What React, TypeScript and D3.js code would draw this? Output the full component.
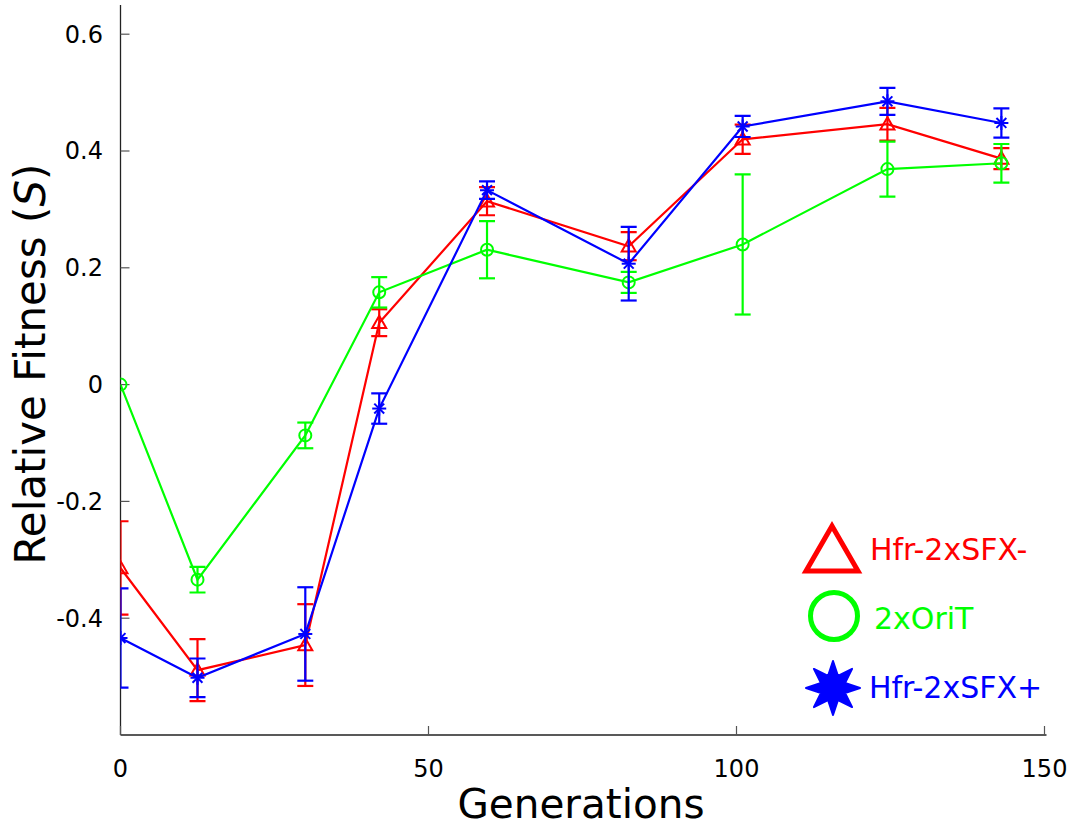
import React from "react";
import * as d3 from "d3";

const generations = [0, 12.5, 30, 42, 59.5, 82.5, 101, 124.5, 143];

const redValues = [-0.314, -0.489, -0.446, 0.106, 0.314, 0.237, 0.42, 0.446, 0.387];
const redErrors = [0.08, 0.053, 0.07, 0.023, 0.024, 0.024, 0.025, 0.028, 0.018];

const greenValues = [0, -0.334, -0.087, 0.158, 0.231, 0.175, 0.24, 0.369, 0.379];
const greenErrors = [0, 0.022, 0.022, 0.026, 0.049, 0.018, 0.12, 0.047, 0.033];

const blueValues = [-0.434, -0.502, -0.427, -0.041, 0.333, 0.207, 0.442, 0.485, 0.448];
const blueErrors = [0.085, 0.033, 0.08, 0.026, 0.015, 0.063, 0.018, 0.023, 0.025];

const seriesNames = ["Hfr-2xSFX-", "2xOriT", "Hfr-2xSFX+"];
const seriesColors = ["#ff0000", "#00ff00", "#0000ff"];
const seriesMarkers = ["triangle", "circle", "star"];

const xTicks = [0, 50, 100, 150];
const yTicks = [0.6, 0.4, 0.2, 0, -0.2, -0.4];

const W = 1076;
const H = 829;
const L = 120.5;
const R = 1044.5;
const T = 5;
const B = 735;

const font = "DejaVu Sans, sans-serif";

function Marker({ kind, x, y, color }: { kind: string; x: number; y: number; color: string }) {
  if (kind === "triangle") {
    const s = 7;
    const pts = `${x},${y - s} ${x - s},${y + s * 0.75} ${x + s},${y + s * 0.75}`;
    return <polygon points={pts} fill="none" stroke={color} strokeWidth={2} />;
  }
  if (kind === "circle") {
    return <circle cx={x} cy={y} r={6} fill="none" stroke={color} strokeWidth={2} />;
  }
  const r = 7;
  const lines = [];
  for (let i = 0; i < 4; i++) {
    const a = (i * Math.PI) / 4;
    lines.push(
      <line
        key={i}
        x1={x - r * Math.cos(a)}
        y1={y - r * Math.sin(a)}
        x2={x + r * Math.cos(a)}
        y2={y + r * Math.sin(a)}
        stroke={color}
        strokeWidth={2}
      />
    );
  }
  return <g>{lines}</g>;
}

export default function App() {
  const x = d3.scaleLinear().domain([0, 150]).range([L, R]);
  const y = d3.scaleLinear().domain([-0.6, 0.65]).range([B, T]);

  const series = [
    { values: redValues, errors: redErrors },
    { values: greenValues, errors: greenErrors },
    { values: blueValues, errors: blueErrors },
  ];

  const line = d3
    .line<number>()
    .x((_, i) => x(generations[i]))
    .y((d) => y(d));

  const cap = 8;

  const starPts = (cx: number, cy: number, ro: number, ri: number, n: number) => {
    const p: string[] = [];
    for (let i = 0; i < n * 2; i++) {
      const rr = i % 2 === 0 ? ro : ri;
      const a = -Math.PI / 2 + (i * Math.PI) / n;
      p.push(`${cx + rr * Math.cos(a)},${cy + rr * Math.sin(a)}`);
    }
    return p.join(" ");
  };

  return (
    <svg
      width={W}
      height={H}
      style={{ position: "absolute", left: 0, top: 0, background: "#fff" }}
      fontFamily={font}
    >
      <defs>
        <clipPath id="plotclip">
          <rect x={L} y={T} width={R - L + 3} height={B - T} />
        </clipPath>
      </defs>

      {/* axes */}
      <line x1={L} y1={T} x2={L} y2={B} stroke="#222" strokeWidth={1.3} />
      <line x1={L} y1={B} x2={R + 2} y2={B} stroke="#222" strokeWidth={1.3} />
      {yTicks.map((t) => (
        <g key={t}>
          <line x1={L} x2={L + 9} y1={y(t)} y2={y(t)} stroke="#555" strokeWidth={1.2} />
          <text x={103} y={y(t)} dy="0.35em" textAnchor="end" fontSize={24} fill="#000">
            {t === 0 ? "0" : String(t)}
          </text>
        </g>
      ))}
      {xTicks.map((t) => (
        <g key={t}>
          <line x1={x(t)} x2={x(t)} y1={B} y2={B - 9} stroke="#555" strokeWidth={1.2} />
          <text x={x(t)} y={777} textAnchor="middle" fontSize={24} fill="#000">
            {t}
          </text>
        </g>
      ))}

      <text x={581} y={818} textAnchor="middle" fontSize={40.5} fill="#000">
        Generations
      </text>
      <text
        transform={`translate(45, 364) rotate(-90)`}
        textAnchor="middle"
        fontSize={42}
        fill="#000"
      >
        Relative Fitness (<tspan fontStyle="italic">S</tspan>)
      </text>

      <g clipPath="url(#plotclip)">
        {series.map((s, si) => (
          <g key={si}>
            <path d={line(s.values) || ""} fill="none" stroke={seriesColors[si]} strokeWidth={2.2} />
            {s.values.map((v, i) => {
              const cx = x(generations[i]);
              const e = s.errors[i];
              if (e <= 0) return null;
              return (
                <g key={i} stroke={seriesColors[si]} strokeWidth={2.2}>
                  <line x1={cx} x2={cx} y1={y(v + e)} y2={y(v - e)} />
                  <line x1={cx - cap} x2={cx + cap} y1={y(v + e)} y2={y(v + e)} />
                  <line x1={cx - cap} x2={cx + cap} y1={y(v - e)} y2={y(v - e)} />
                </g>
              );
            })}
            {s.values.map((v, i) => (
              <Marker key={i} kind={seriesMarkers[si]} x={x(generations[i])} y={y(v)} color={seriesColors[si]} />
            ))}
          </g>
        ))}
      </g>

      {/* legend */}
      <polygon
        points={`832,526 806,571 858,571`}
        fill="none"
        stroke={seriesColors[0]}
        strokeWidth={5}
        strokeLinejoin="miter"
      />
      <circle cx={834} cy={616} r={23.5} fill="none" stroke={seriesColors[1]} strokeWidth={5} />
      <polygon points={starPts(833, 688, 27, 13, 8)} fill={seriesColors[2]} stroke={seriesColors[2]} strokeWidth={2} strokeLinejoin="round" />
      <text x={870} y={560} fontSize={30} fill={seriesColors[0]}>{seriesNames[0]}</text>
      <text x={874} y={629} fontSize={30} fill={seriesColors[1]}>{seriesNames[1]}</text>
      <text x={869} y={698} fontSize={30} fill={seriesColors[2]}>{seriesNames[2]}</text>
    </svg>
  );
}
